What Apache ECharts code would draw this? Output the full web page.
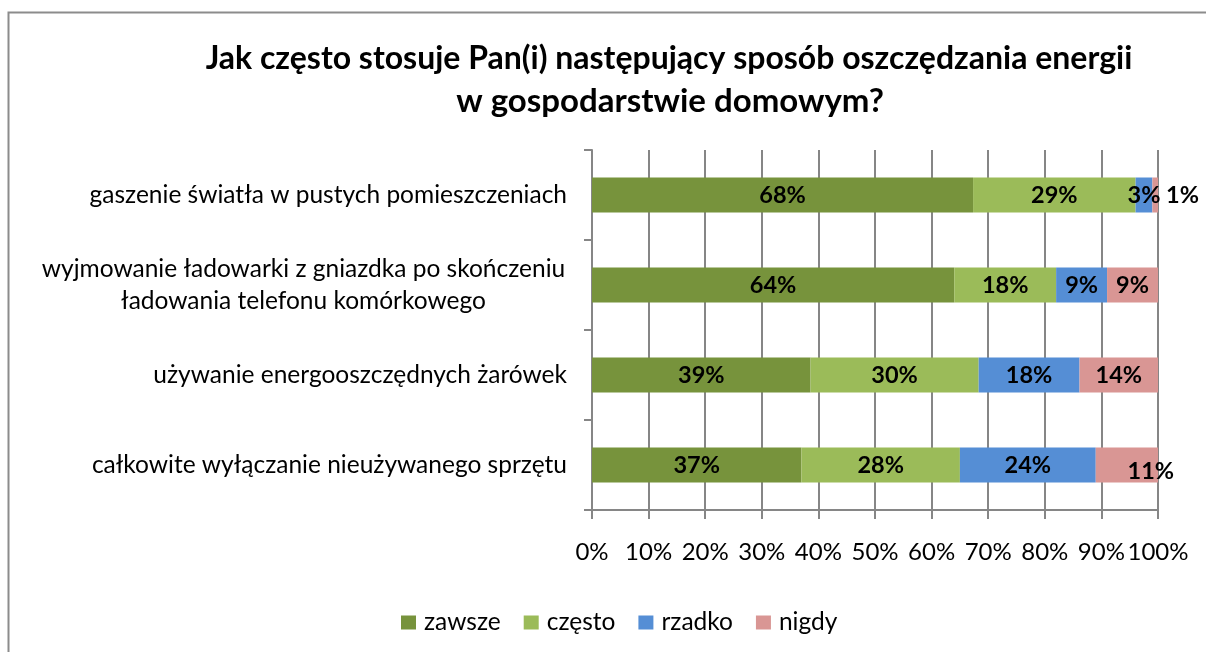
<!DOCTYPE html>
<html>
<head>
<meta charset="utf-8">
<script src="https://cdn.jsdelivr.net/npm/echarts@6/dist/echarts.min.js"></script>
<style>
  html, body { margin: 0; padding: 0; background: #fff; }
  #chart { width: 1206px; height: 652px; }
</style>
</head>
<body>
<div id="chart"></div>
<script>
// kategorie (od góry)
const categories = [
  'gaszenie światła w pustych pomieszczeniach',
  'wyjmowanie ładowarki z gniazdka po skończeniu\nładowania telefonu komórkowego',
  'używanie energooszczędnych żarówek',
  'całkowite wyłączanie nieużywanego sprzętu'
]
const seriesNames = ['zawsze', 'często', 'rzadko', 'nigdy']
const zawsze = [68, 64, 39, 37]
const czesto = [29, 18, 30, 28]
const rzadko = [3, 9, 18, 24]
const nigdy = [1, 9, 14, 11]
const xTicks = [0, 10, 20, 30, 40, 50, 60, 70, 80, 90, 100]
const colors = ['#77933C', '#9BBB59', '#558ED5', '#D99694']

const FONT = 'Lato'
const raw = [zawsze, czesto, rzadko, nigdy]
// 100% skumulowane - normalizacja sum wierszy
const totals = categories.map((c, i) => raw.reduce((s, arr) => s + arr[i], 0))

const chart = echarts.init(document.getElementById('chart'))

function getSeries() {
  const series = []
  raw.forEach((arr, si) => {
    series.push({
      name: seriesNames[si],
      type: 'bar',
      stack: 'total',
      barWidth: 35,
      itemStyle: { color: colors[si] },
      label: {
        show: true,
        position: 'inside',
        color: '#000',
        fontFamily: FONT,
        fontWeight: 'bold',
        fontSize: 23.5,
        formatter: (p) => arr[p.dataIndex] + '%'
      },
      data: arr.map((v, i) => {
        const item = { value: v / totals[i] * 100 }
        // etykiety przesunięte jak w oryginale
        if (si === 3 && i === 0) {
          item.label = { position: 'right', distance: 8 }
        }
        if (si === 3 && i === 3) {
          item.label = { offset: [24, 6] }
        }
        return item
      })
    })
  })
  return series
}

const option = {
  animation: false,
  textStyle: { fontFamily: FONT },
  graphic: [{
    type: 'rect',
    shape: { x: 8.5, y: 12.5, width: 1300, height: 700 },
    style: { fill: 'none', stroke: '#8c8c8c', lineWidth: 2 },
    silent: true
  }],
  title: [{
    text: 'Jak często stosuje Pan(i) następujący sposób oszczędzania energii',
    left: 664,
    top: 38,
    textAlign: 'center',
    textStyle: { fontFamily: FONT, fontWeight: 'bold', fontSize: 32, color: '#000' }
  }, {
    text: 'w gospodarstwie domowym?',
    left: 665,
    top: 80,
    textAlign: 'center',
    textStyle: { fontFamily: FONT, fontWeight: 'bold', fontSize: 33, color: '#000' }
  }],
  legend: {
    bottom: 12,
    left: 396,
    itemWidth: 15,
    itemHeight: 14,
    itemGap: 23,
    icon: 'rect',
    textStyle: { fontFamily: FONT, fontSize: 24.5, color: '#000', padding: [0, 0, 0, 3] },
    data: seriesNames
  },
  grid: {
    left: 592,
    right: 48,
    top: 150,
    bottom: 142
  },
  xAxis: {
    type: 'value',
    min: xTicks[0],
    max: xTicks[xTicks.length - 1],
    interval: 10,
    axisLine: { show: true, lineStyle: { color: '#868686', width: 2 } },
    axisTick: { show: true, length: 9, lineStyle: { color: '#868686', width: 2 } },
    splitLine: { show: true, lineStyle: { color: '#868686', width: 2 } },
    axisLabel: {
      margin: 30,
      color: '#000',
      fontFamily: FONT,
      fontSize: 24,
      formatter: '{value}%'
    }
  },
  yAxis: {
    type: 'category',
    inverse: true,
    data: categories,
    axisLine: { show: true, lineStyle: { color: '#868686', width: 2 } },
    axisTick: { show: true, length: 8, lineStyle: { color: '#868686', width: 2 } },
    axisLabel: {
      margin: 25,
      color: '#000',
      fontFamily: FONT,
      fontSize: 24.5,
      lineHeight: 32,
      formatter: (v) => v.indexOf('\n') < 0 ? v : v.split('\n').map(l => '{c|' + l + '}').join('\n'),
      rich: {
        c: { width: 527, align: 'center', fontFamily: FONT, fontSize: 24.5, lineHeight: 32, color: '#000' }
      }
    }
  },
  series: getSeries()
}

chart.setOption(option)
</script>
</body>
</html>
